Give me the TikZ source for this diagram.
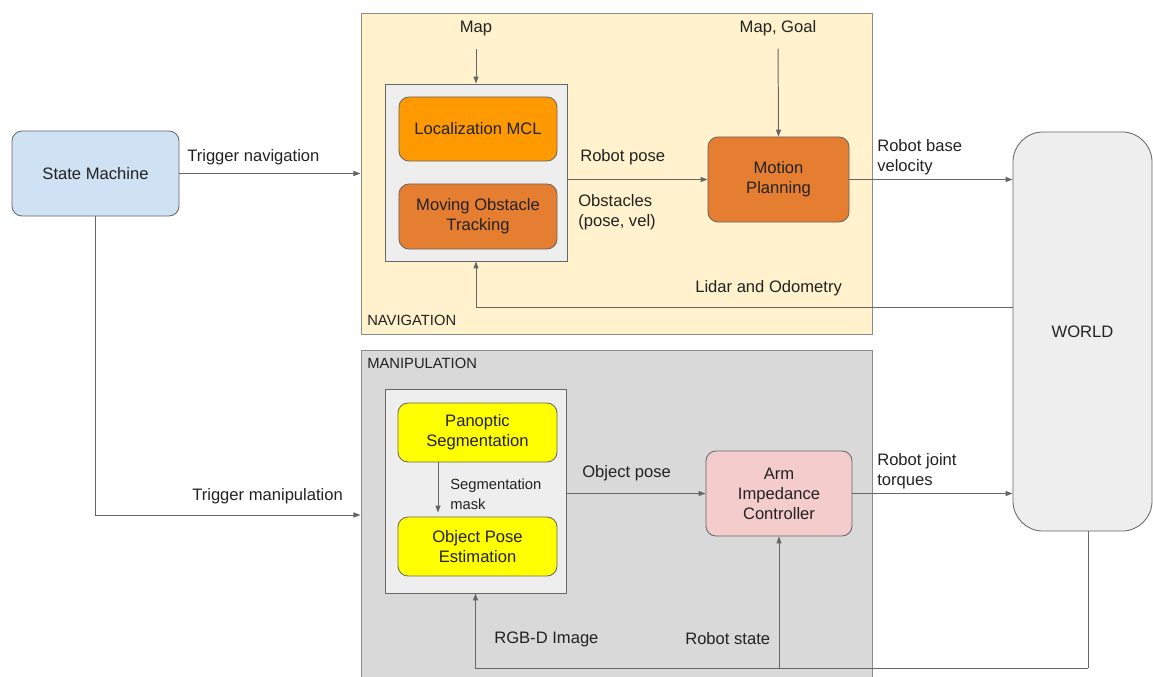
\documentclass[tikz,border=0pt]{standalone}
\usepackage{fontspec}
\setmainfont{Liberation Sans}
\usetikzlibrary{arrows.meta, positioning, calc}
\usepackage{xcolor}

\definecolor{lineGray}{HTML}{666666}
\definecolor{frameGray}{HTML}{8A8A8A}
\definecolor{textGray}{HTML}{222222}
\definecolor{smBlue}{HTML}{CFE2F3}
\definecolor{navYellow}{HTML}{FFF2CC}
\definecolor{manGray}{HTML}{D9D9D9}
\definecolor{innerGray}{HTML}{EEEEEE}
\definecolor{mclOrange}{HTML}{FF9900}
\definecolor{darkOrange}{HTML}{E57E31}
\definecolor{segYellow}{HTML}{FFFF00}
\definecolor{armPink}{HTML}{F4CCCC}

\begin{document}
\begin{tikzpicture}[
    x=0.025cm, y=-0.025cm,
    every node/.style={font=\fontsize{11.8}{14.2}\selectfont, text=textGray},
    block/.style={draw=lineGray, rounded corners=0.25cm, align=center, inner sep=0pt, line width=0.6pt},
    region/.style={draw=frameGray, inner sep=0pt, line width=0.6pt},
    inbox/.style={draw=lineGray, fill=innerGray, inner sep=0pt, line width=0.6pt},
    label/.style={inner sep=0pt, align=left, yshift=-1.4pt},
    small/.style={font=\fontsize{10.5}{14.2}\selectfont},
    arrow/.style={-{Triangle[length=5pt,width=3.6pt]}, draw=lineGray, line width=0.7pt},
    wire/.style={draw=lineGray, line width=0.7pt}
]
\useasboundingbox (0,0) rectangle (1153,677);
\clip (0,0) rectangle (1153,677);

% Regions
\node[region, fill=navYellow, minimum width=12.775cm, minimum height=8.025cm] (nav) at (616.5,173.5) {};
\node[region, fill=manGray, minimum width=12.775cm, minimum height=8.25cm] (man) at (616.5,515) {};
\node[label, small, anchor=west] (navl) at (367,318) {NAVIGATION};
\node[label, small, anchor=west] (manl) at (367,361) {MANIPULATION};

% Nodes
\node[block, fill=smBlue, minimum width=4.175cm, minimum height=2.125cm] (sm) at (95.5,173.5) {State Machine};
\node[inbox, minimum width=4.55cm, minimum height=4.425cm] (navin) at (476,172.5) {};
\node[block, fill=mclOrange, minimum width=3.95cm, minimum height=1.6cm] (mcl) at (478,129) {Localization MCL};
\node[block, fill=darkOrange, minimum width=3.95cm, minimum height=1.625cm] (mot) at (478,216.5) {Moving Obstacle\\Tracking};
\node[block, fill=darkOrange, minimum width=3.525cm, minimum height=2.125cm] (mp) at (778.5,179.5) {Motion\\Planning};
\node[inbox, minimum width=4.525cm, minimum height=5.1cm] (manin) at (475.5,491) {};
\node[block, fill=segYellow, minimum width=3.975cm, minimum height=1.475cm] (pan) at (477.5,432.5) {Panoptic\\Segmentation};
\node[block, fill=segYellow, minimum width=3.975cm, minimum height=1.475cm] (ope) at (477.5,546.5) {Object Pose\\Estimation};
\node[block, fill=armPink, minimum width=3.65cm, minimum height=2.125cm] (arm) at (779,493.5) {Arm\\Impedance\\Controller};
\node[block, fill=innerGray, rounded corners=0.75cm, minimum width=3.475cm, minimum height=9.975cm] (world) at (1082.5,331.5) {WORLD};

% Labels
\node[label] (mapl) at (476,27) {Map};
\node[label] (mgl) at (778,26) {Map, Goal};
\node[label, anchor=west] (tnl) at (187,155) {Trigger navigation};
\node[label, anchor=west] (tml) at (192,494) {Trigger manipulation};
\node[label, anchor=west] (rpl) at (580,155) {Robot pose};
\node[label, anchor=west] (obl) at (578,210) {Obstacles\\(pose, vel)};
\node[label, anchor=west] (rbvl) at (877,155) {Robot base\\velocity};
\node[label, anchor=west] (lidl) at (695,286) {Lidar and Odometry};
\node[label, small, anchor=west] (segl) at (450,492) {Segmentation\\mask};
\node[label, anchor=west] (opl) at (582,471) {Object pose};
\node[label, anchor=west] (rjtl) at (877,469) {Robot joint\\torques};
\node[label, anchor=west] (rgbl) at (494,637) {RGB-D Image};
\node[label, anchor=west] (rsl) at (685,637) {Robot state};

\coordinate (lidar) at (1013,307);
\coordinate (wb) at (1088,668);

% Arrows
\draw[arrow] (sm) -- (nav);
\draw[arrow] (sm.south) |- (man.west);
\draw[arrow, shorten <=9pt] (mapl.south) -- (navin.north);
\draw[arrow, shorten <=9pt] (mgl.south) -- (mp.north);
\draw[arrow] (navin.east |- mp.west) -- (mp.west);
\draw[arrow] (mp.east) -- (mp.east -| world.west);
\draw[arrow] (world.west |- lidar) -| (navin.south);
\draw[arrow] ($(pan.south)+(-39.5,0)$) -- ($(ope.north)+(-39.5,-4)$);
\draw[arrow] (manin.east |- arm.west) -- (arm.west);
\draw[arrow] (arm.east) -- (arm.east -| world.west);
\draw[wire] (world.south -| wb) -- (wb);
\draw[arrow] (wb) -| (manin.south);
\draw[arrow] (wb -| arm.south) -- (arm.south);

\end{tikzpicture}
\end{document}
